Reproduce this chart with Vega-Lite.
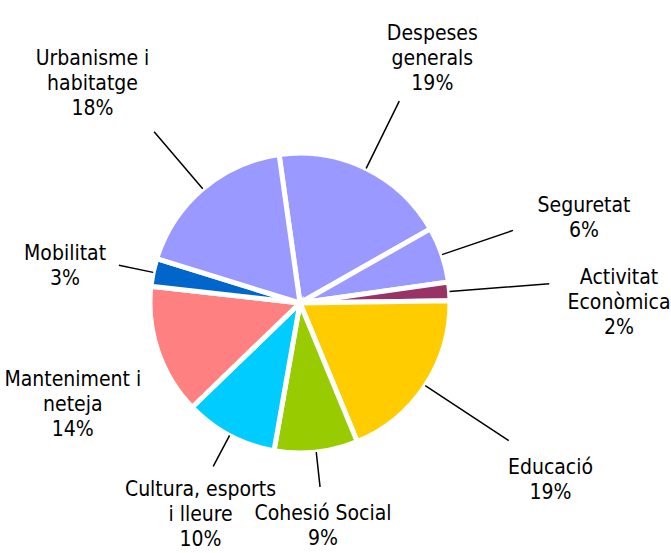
{
  "$schema": "https://vega.github.io/schema/vega-lite/v6.json",
  "width": 600,
  "height": 500,
  "autosize": "none",
  "padding": {"left": 0, "top": 53, "right": 71, "bottom": 0},
  "background": "white",
  "config": {"view": {"stroke": null}, "text": {"font": "DejaVu Sans Condensed, DejaVu Sans", "fontSize": 21, "align": "center", "baseline": "middle", "lineBreak": "\n", "lineHeight": 25, "color": "black"}},
  "data": {
    "values": [
      {"ordre": 1, "partida": "Despeses generals", "pct": 19, "label": "Despeses\ngenerals\n19%"},
      {"ordre": 2, "partida": "Seguretat", "pct": 6, "label": "Seguretat\n6%"},
      {"ordre": 3, "partida": "Activitat Econòmica", "pct": 2, "label": "Activitat\nEconòmica\n2%"},
      {"ordre": 4, "partida": "Educació", "pct": 19, "label": "Educació\n19%"},
      {"ordre": 5, "partida": "Cohesió Social", "pct": 9, "label": "Cohesió Social\n9%"},
      {"ordre": 6, "partida": "Cultura, esports i lleure", "pct": 10, "label": "Cultura, esports\ni lleure\n10%"},
      {"ordre": 7, "partida": "Manteniment i neteja", "pct": 14, "label": "Manteniment i\nneteja\n14%"},
      {"ordre": 8, "partida": "Mobilitat", "pct": 3, "label": "Mobilitat\n3%"},
      {"ordre": 9, "partida": "Urbanisme i habitatge", "pct": 18, "label": "Urbanisme i\nhabitatge\n18%"}
    ]
  },
  "encoding": {
    "theta": {"field": "pct", "type": "quantitative", "stack": true, "scale": {"range": [-0.14, 6.1432]}},
    "order": {"field": "ordre", "type": "quantitative"}
  },
  "layer": [
    {
      "mark": {"type": "arc", "outerRadius": 150, "stroke": "white", "strokeWidth": 5},
      "encoding": {
        "color": {
          "field": "partida",
          "type": "nominal",
          "legend": null,
          "scale": {
            "domain": ["Despeses generals", "Seguretat", "Activitat Econòmica", "Educació", "Cohesió Social", "Cultura, esports i lleure", "Manteniment i neteja", "Mobilitat", "Urbanisme i habitatge"],
            "range": ["#9999FF", "#9999FF", "#993366", "#FFCC00", "#99CC00", "#00CCFF", "#FF8080", "#0066CC", "#9999FF"]
          }
        }
      }
    },
    {
      "mark": {"type": "arc", "radius": 225, "radius2": 150, "padAngle": 3, "fill": null, "stroke": "black", "strokeWidth": 1.5},
      "encoding": {"strokeOpacity": {"condition": {"test": {"field": "partida", "oneOf": ["Despeses generals", "Urbanisme i habitatge", "Seguretat"]}, "value": 1}, "value": 0}}
    },
    {
      "mark": {"type": "arc", "radius": 250, "radius2": 150, "padAngle": 3, "fill": null, "stroke": "black", "strokeWidth": 1.5},
      "encoding": {"strokeOpacity": {"condition": {"test": {"field": "partida", "oneOf": ["Activitat Econòmica", "Educació"]}, "value": 1}, "value": 0}}
    },
    {
      "mark": {"type": "arc", "radius": 185, "radius2": 150, "padAngle": 3, "fill": null, "stroke": "black", "strokeWidth": 1.5},
      "encoding": {"strokeOpacity": {"condition": {"test": {"field": "partida", "oneOf": ["Cohesió Social", "Cultura, esports i lleure", "Mobilitat"]}, "value": 1}, "value": 0}}
    },
    {
      "mark": {"type": "text", "radius": 320},
      "encoding": {"text": {"condition": {"test": {"field": "partida", "oneOf": ["Activitat Econòmica", "Urbanisme i habitatge"]}, "field": "label", "type": "nominal"}, "value": ""}}
    },
    {
      "mark": {"type": "text", "radius": 300},
      "encoding": {"text": {"condition": {"test": {"field": "partida", "oneOf": ["Educació", "Despeses generals", "Seguretat"]}, "field": "label", "type": "nominal"}, "value": ""}}
    },
    {
      "mark": {"type": "text", "radius": 240},
      "encoding": {"text": {"condition": {"test": {"field": "partida", "oneOf": ["Mobilitat", "Manteniment i neteja"]}, "field": "label", "type": "nominal"}, "value": ""}}
    },
    {
      "mark": {"type": "text", "radius": 212},
      "encoding": {"text": {"condition": {"test": {"field": "partida", "oneOf": ["Cohesió Social", "Cultura, esports i lleure"]}, "field": "label", "type": "nominal"}, "value": ""}}
    }
  ]
}
